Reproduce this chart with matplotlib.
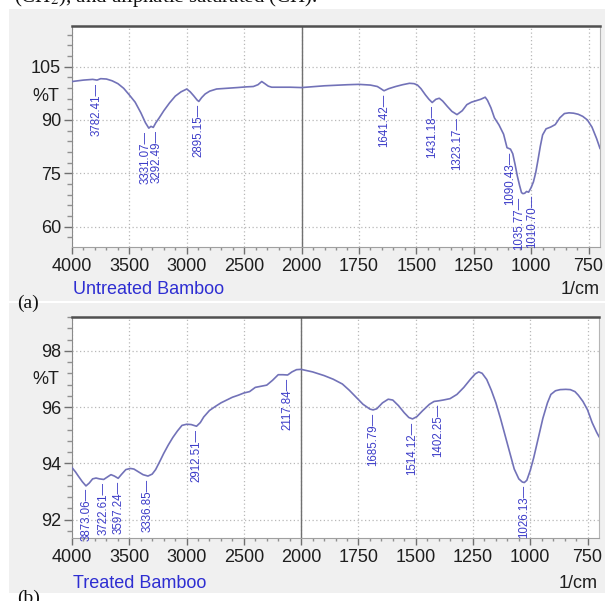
import numpy as np
import matplotlib
matplotlib.use("Agg")
import matplotlib.pyplot as plt
from matplotlib.patches import Rectangle
from matplotlib.ticker import FixedLocator, MultipleLocator

# ---- data ----
untreated_wn = [4000, 3900, 3820, 3782, 3750, 3700, 3650, 3600, 3550, 3500,
                3450, 3400, 3360, 3331, 3312, 3292, 3270, 3240, 3200, 3150,
                3100, 3050, 3000, 2970, 2940, 2910, 2895, 2870, 2840, 2800,
                2740, 2650, 2560, 2480, 2420, 2380, 2347, 2320, 2290, 2260,
                2200, 2100, 2000, 1900, 1800, 1750, 1700, 1670, 1655, 1641,
                1620, 1590, 1560, 1530, 1510, 1495, 1480, 1460, 1445, 1431,
                1415, 1400, 1385, 1365, 1345, 1323, 1300, 1280, 1260, 1240,
                1220, 1200, 1190, 1175, 1160, 1140, 1120, 1105, 1090, 1080,
                1070, 1060, 1050, 1042, 1036, 1028, 1020, 1011, 1000, 990,
                980, 970, 960, 950, 935, 915, 895, 875, 855, 835,
                815, 795, 775, 755, 735, 715, 700]
untreated_t = [100.8, 101.2, 101.4, 101.2, 101.6, 101.5, 101.0, 100.2, 98.9, 97.0,
               95.0, 92.0, 89.2, 87.7, 88.2, 87.9, 89.2, 90.6, 92.6, 94.8,
               96.7, 97.9, 98.7, 97.9, 96.8, 95.6, 95.2, 96.3, 97.3, 98.1,
               98.7, 98.9, 99.1, 99.3, 99.4, 99.9, 100.8, 100.2, 99.5, 99.2,
               99.2, 99.2, 99.1, 99.6, 99.9, 100.0, 99.8, 99.4, 98.8, 98.2,
               98.8, 99.4, 99.9, 100.3, 100.2, 99.8, 98.8, 97.0, 95.8, 94.9,
               95.8, 96.1, 95.3, 93.8, 92.4, 91.5, 92.6, 94.3, 95.0, 95.4,
               95.8, 96.4, 95.5, 93.4, 90.6, 88.6, 86.0, 82.2, 81.8, 80.5,
               77.5, 74.2, 71.5, 69.6, 69.3, 69.4, 69.9, 69.7, 71.0, 72.6,
               75.2, 78.8, 82.6, 85.8, 87.5, 88.0, 88.7, 90.6, 91.8, 92.0,
               91.9, 91.6, 91.0, 90.0, 88.0, 84.8, 82.0]
untreated_peaks = [3782.41, 3331.07, 3292.49, 2895.15, 1641.42, 1431.18,
                   1323.17, 1090.43, 1035.77, 1010.70]

treated_wn = [4000, 3970, 3945, 3910, 3878, 3850, 3820, 3790, 3760, 3723,
              3690, 3660, 3630, 3597, 3570, 3530, 3490, 3460, 3420, 3380,
              3337, 3300, 3270, 3230, 3200, 3160, 3120, 3080, 3040, 3000,
              2960, 2913, 2880, 2850, 2800, 2750, 2700, 2650, 2600, 2550,
              2500, 2450, 2400, 2350, 2300, 2250, 2200, 2160, 2118, 2080,
              2040, 2000, 1950, 1900, 1860, 1820, 1790, 1760, 1730, 1700,
              1686, 1670, 1645, 1620, 1600, 1575, 1550, 1530, 1514, 1495,
              1470, 1440, 1420, 1402, 1380, 1350, 1320, 1290, 1260, 1240,
              1225, 1210, 1190, 1170, 1150, 1130, 1110, 1090, 1070, 1050,
              1035, 1026, 1015, 1000, 985, 965, 945, 925, 910, 890,
              870, 845, 825, 805, 790, 770, 750, 730, 710, 700]
treated_t = [93.85, 93.7, 93.55, 93.35, 93.2, 93.3, 93.45, 93.48, 93.45, 93.43,
             93.52, 93.6, 93.55, 93.47, 93.6, 93.78, 93.82, 93.8, 93.7, 93.6,
             93.55, 93.62, 93.78, 94.1, 94.35, 94.65, 94.92, 95.15, 95.35, 95.39,
             95.38, 95.32, 95.45, 95.65, 95.88, 96.02, 96.15, 96.25, 96.35, 96.42,
             96.5, 96.55, 96.7, 96.74, 96.78, 96.95, 97.15, 97.15, 97.14, 97.25,
             97.33, 97.34, 97.25, 97.12, 96.99, 96.82, 96.6, 96.35, 96.1, 95.93,
             95.9, 95.94, 96.15, 96.28, 96.25, 96.05, 95.8, 95.63, 95.58, 95.66,
             95.87, 96.1, 96.2, 96.22, 96.25, 96.3, 96.45, 96.7, 97.0, 97.18,
             97.25, 97.2, 96.98, 96.6, 96.15, 95.6, 95.0, 94.4, 93.8, 93.45,
             93.34, 93.32, 93.4, 93.75, 94.2, 94.9, 95.6, 96.15, 96.45, 96.58,
             96.62, 96.63, 96.62, 96.55, 96.42, 96.2, 95.9, 95.45, 95.1, 94.95]
treated_peaks = [3873.06, 3722.61, 3597.24, 3336.85, 2912.51, 2117.84,
                 1685.79, 1514.12, 1402.25, 1026.13]

x_ticks = [4000, 3500, 3000, 2500, 2000, 1750, 1500, 1250, 1000, 750]
untreated_yticks = [60, 75, 90, 105]
treated_yticks = [92, 94, 96, 98]

# ---- style ----
LINE = "#7272b8"
LABEL = "#3c3cc8"
TITLE = "#2e2ed2"
TEXT = "#1e1e1e"
PANEL = "#f0f0f0"
SCALE_BREAK = 2000
W, H = 605, 601

plt.rcParams["font.family"] = ["Liberation Sans", "DejaVu Sans"]
plt.rcParams["mathtext.fontset"] = "stix"


# wavenumber axis: below 2000 1/cm the scale is stretched by a factor of two
def fwd(x):
    x = np.asarray(x, dtype=float)
    return np.where(x >= SCALE_BREAK, x, 2 * x - SCALE_BREAK)


def inv(u):
    u = np.asarray(u, dtype=float)
    return np.where(u >= SCALE_BREAK, u, (u + SCALE_BREAK) / 2)


def box(px_left, px_top, px_right, px_bottom):
    return [px_left / W, 1 - px_bottom / H, (px_right - px_left) / W, (px_bottom - px_top) / H]


def draw_panel(ax, wn, t, peaks, yticks, ylim, yminor, nudges, ylabel_frac):
    ax.set_xscale("function", functions=(fwd, inv))
    ax.plot(wn, t, color=LINE, lw=1.2, zorder=3)
    ax.set_xlim(4000, 700)
    ax.set_ylim(*ylim)

    ax.xaxis.set_major_locator(FixedLocator(x_ticks))
    minor_x = [v for v in list(range(3900, 2000, -100)) + list(range(1950, 700, -50))
               if v not in x_ticks]
    ax.xaxis.set_minor_locator(FixedLocator(minor_x))
    ax.set_xticklabels([str(v) for v in x_ticks])
    ax.yaxis.set_major_locator(FixedLocator(yticks))
    ax.yaxis.set_minor_locator(MultipleLocator(yminor))

    ax.tick_params(which="major", length=6, width=1, color="#707070",
                   labelsize=13, labelcolor=TEXT, pad=2)
    ax.tick_params(which="minor", length=3.5, width=1, color="#909090")
    ax.tick_params(axis="x", which="major", length=5, pad=3)
    ax.tick_params(axis="x", which="minor", length=2.5)

    ax.grid(True, which="major", color="#b8b8b8", lw=0.9, ls=(0, (1, 2)))
    ax.axvline(SCALE_BREAK, color="#707070", lw=1, zorder=2)

    ax.spines["top"].set_color("#505050")
    ax.spines["top"].set_linewidth(1.8)
    ax.spines["left"].set_color("#8a8a8a")
    ax.spines["right"].set_color("#b5b5b5")
    ax.spines["bottom"].set_color("#a0a0a0")

    ax.text(-0.025, ylabel_frac, "%T", transform=ax.transAxes, ha="right",
            va="center", fontsize=13, color=TEXT)

    order = np.argsort(wn)
    for i, p in enumerate(peaks):
        yp = np.interp(p, np.asarray(wn)[order], np.asarray(t)[order])
        ax.annotate(f"{p:.2f}\u2014", xy=(p, yp), xytext=(nudges.get(i, 0), -2),
                    textcoords="offset points", rotation=90, ha="center",
                    va="top", fontsize=8.3, color=LABEL, zorder=4)


fig = plt.figure(figsize=(W / 100, H / 100), dpi=100)
for px_top, px_bottom in [(9, 301), (303, 593)]:
    x0, y0, w, h = box(9, px_top, W, px_bottom)
    fig.patches.append(Rectangle((x0, y0), w, h, transform=fig.transFigure,
                                 facecolor=PANEL, edgecolor="none", zorder=-5))

ax1 = fig.add_axes(box(72, 26, 600, 247))
draw_panel(ax1, untreated_wn, untreated_t, untreated_peaks, untreated_yticks,
           (54.3, 116.4), 3, {1: -2.5, 2: 2.5, 8: -2.5, 9: 2.5}, 0.68)

ax2 = fig.add_axes(box(72, 317, 599, 538))
draw_panel(ax2, treated_wn, treated_t, treated_peaks, treated_yticks,
           (91.35, 99.2), 0.4, {}, 0.715)

fig.text(73 / W, 1 - 289 / H, "Untreated Bamboo", color=TITLE, fontsize=13, va="center")
fig.text(600 / W, 1 - 289 / H, "1/cm", color=TEXT, fontsize=13, va="center", ha="right")
fig.text(73 / W, 1 - 583 / H, "Treated Bamboo", color=TITLE, fontsize=13, va="center")
fig.text(598 / W, 1 - 583 / H, "1/cm", color=TEXT, fontsize=13, va="center", ha="right")

serif = ["Liberation Serif", "DejaVu Serif"]
fig.text(17 / W, 1 - 303 / H, "(a)", family=serif, fontsize=14, va="center", color="#111111")
fig.text(17 / W, 1 - 598 / H, "(b)", family=serif, fontsize=14, va="center", color="#111111")
fig.text(14 / W, 1 - 2 / H, "(CH$_2$), and aliphatic saturated (CH).", family=serif,
         fontsize=15, va="baseline", color="#111111")

fig.savefig("out.png", dpi=100)
